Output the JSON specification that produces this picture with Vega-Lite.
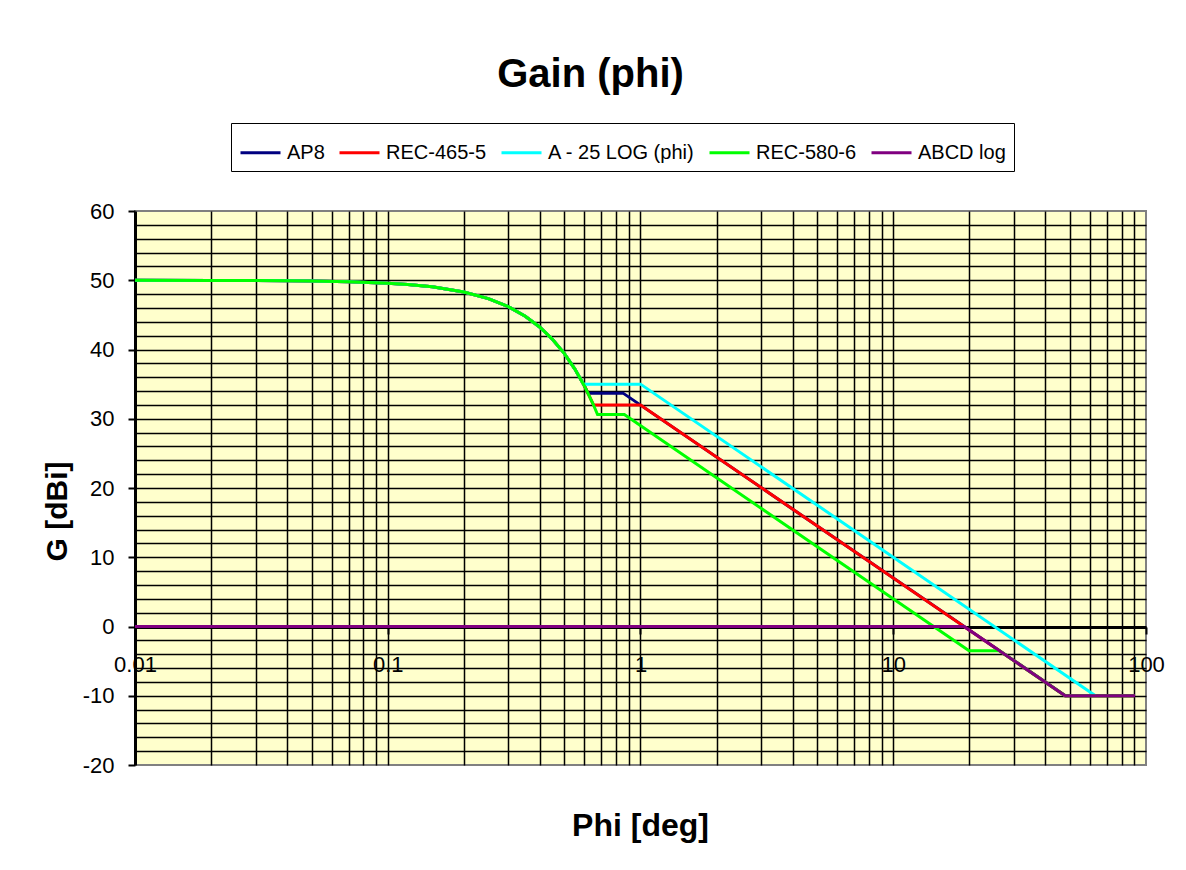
{
  "$schema": "https://vega.github.io/schema/vega-lite/v6.json",
  "width": 1011,
  "height": 554,
  "autosize": {"type": "none"},
  "padding": {"left": 135, "top": 211, "right": 40, "bottom": 105},
  "background": "white",
  "config": {
    "font": "Liberation Sans",
    "view": {"fill": "#FFFFCC", "stroke": "#808080", "strokeWidth": 2}
  },
  "title": {"text": "Gain (phi)", "fontSize": 40, "fontWeight": "bold", "font": "Liberation Sans", "color": "black", "anchor": "middle", "dx": -50, "offset": 28},
  "data": {"values": [
    {"s": "AP8", "phi": 0.01, "g": 50},
    {"s": "AP8", "phi": 0.02, "g": 49.98},
    {"s": "AP8", "phi": 0.03, "g": 49.96},
    {"s": "AP8", "phi": 0.04, "g": 49.93},
    {"s": "AP8", "phi": 0.05, "g": 49.89},
    {"s": "AP8", "phi": 0.07, "g": 49.79},
    {"s": "AP8", "phi": 0.1, "g": 49.58},
    {"s": "AP8", "phi": 0.12, "g": 49.39},
    {"s": "AP8", "phi": 0.15, "g": 49.05},
    {"s": "AP8", "phi": 0.2, "g": 48.3},
    {"s": "AP8", "phi": 0.25, "g": 47.35},
    {"s": "AP8", "phi": 0.3, "g": 46.18},
    {"s": "AP8", "phi": 0.35, "g": 44.81},
    {"s": "AP8", "phi": 0.4, "g": 43.22},
    {"s": "AP8", "phi": 0.45, "g": 41.41},
    {"s": "AP8", "phi": 0.5, "g": 39.4},
    {"s": "AP8", "phi": 0.55, "g": 37.17},
    {"s": "AP8", "phi": 0.6, "g": 34.74},
    {"s": "AP8", "phi": 0.62, "g": 33.7},
    {"s": "AP8", "phi": 0.853, "g": 33.7},
    {"s": "AP8", "phi": 48, "g": -10},
    {"s": "AP8", "phi": 90, "g": -10},

    {"s": "REC-465-5", "phi": 0.01, "g": 50},
    {"s": "REC-465-5", "phi": 0.02, "g": 49.98},
    {"s": "REC-465-5", "phi": 0.03, "g": 49.96},
    {"s": "REC-465-5", "phi": 0.04, "g": 49.93},
    {"s": "REC-465-5", "phi": 0.05, "g": 49.89},
    {"s": "REC-465-5", "phi": 0.07, "g": 49.79},
    {"s": "REC-465-5", "phi": 0.1, "g": 49.58},
    {"s": "REC-465-5", "phi": 0.12, "g": 49.39},
    {"s": "REC-465-5", "phi": 0.15, "g": 49.05},
    {"s": "REC-465-5", "phi": 0.2, "g": 48.3},
    {"s": "REC-465-5", "phi": 0.25, "g": 47.35},
    {"s": "REC-465-5", "phi": 0.3, "g": 46.18},
    {"s": "REC-465-5", "phi": 0.35, "g": 44.81},
    {"s": "REC-465-5", "phi": 0.4, "g": 43.22},
    {"s": "REC-465-5", "phi": 0.45, "g": 41.41},
    {"s": "REC-465-5", "phi": 0.5, "g": 39.4},
    {"s": "REC-465-5", "phi": 0.55, "g": 37.17},
    {"s": "REC-465-5", "phi": 0.6, "g": 34.74},
    {"s": "REC-465-5", "phi": 0.652, "g": 32},
    {"s": "REC-465-5", "phi": 1, "g": 32},
    {"s": "REC-465-5", "phi": 47.86, "g": -10},
    {"s": "REC-465-5", "phi": 90, "g": -10},

    {"s": "A - 25 LOG (phi)", "phi": 0.01, "g": 50},
    {"s": "A - 25 LOG (phi)", "phi": 0.02, "g": 49.98},
    {"s": "A - 25 LOG (phi)", "phi": 0.03, "g": 49.96},
    {"s": "A - 25 LOG (phi)", "phi": 0.04, "g": 49.93},
    {"s": "A - 25 LOG (phi)", "phi": 0.05, "g": 49.89},
    {"s": "A - 25 LOG (phi)", "phi": 0.07, "g": 49.79},
    {"s": "A - 25 LOG (phi)", "phi": 0.1, "g": 49.58},
    {"s": "A - 25 LOG (phi)", "phi": 0.12, "g": 49.39},
    {"s": "A - 25 LOG (phi)", "phi": 0.15, "g": 49.05},
    {"s": "A - 25 LOG (phi)", "phi": 0.2, "g": 48.3},
    {"s": "A - 25 LOG (phi)", "phi": 0.25, "g": 47.35},
    {"s": "A - 25 LOG (phi)", "phi": 0.3, "g": 46.18},
    {"s": "A - 25 LOG (phi)", "phi": 0.35, "g": 44.81},
    {"s": "A - 25 LOG (phi)", "phi": 0.4, "g": 43.22},
    {"s": "A - 25 LOG (phi)", "phi": 0.45, "g": 41.41},
    {"s": "A - 25 LOG (phi)", "phi": 0.5, "g": 39.4},
    {"s": "A - 25 LOG (phi)", "phi": 0.55, "g": 37.17},
    {"s": "A - 25 LOG (phi)", "phi": 0.595, "g": 35},
    {"s": "A - 25 LOG (phi)", "phi": 1, "g": 35},
    {"s": "A - 25 LOG (phi)", "phi": 63.1, "g": -10},

    {"s": "REC-580-6", "phi": 0.01, "g": 50},
    {"s": "REC-580-6", "phi": 0.02, "g": 49.98},
    {"s": "REC-580-6", "phi": 0.03, "g": 49.96},
    {"s": "REC-580-6", "phi": 0.04, "g": 49.93},
    {"s": "REC-580-6", "phi": 0.05, "g": 49.89},
    {"s": "REC-580-6", "phi": 0.07, "g": 49.79},
    {"s": "REC-580-6", "phi": 0.1, "g": 49.58},
    {"s": "REC-580-6", "phi": 0.12, "g": 49.39},
    {"s": "REC-580-6", "phi": 0.15, "g": 49.05},
    {"s": "REC-580-6", "phi": 0.2, "g": 48.3},
    {"s": "REC-580-6", "phi": 0.25, "g": 47.35},
    {"s": "REC-580-6", "phi": 0.3, "g": 46.18},
    {"s": "REC-580-6", "phi": 0.35, "g": 44.81},
    {"s": "REC-580-6", "phi": 0.4, "g": 43.22},
    {"s": "REC-580-6", "phi": 0.45, "g": 41.41},
    {"s": "REC-580-6", "phi": 0.5, "g": 39.4},
    {"s": "REC-580-6", "phi": 0.55, "g": 37.17},
    {"s": "REC-580-6", "phi": 0.6, "g": 34.74},
    {"s": "REC-580-6", "phi": 0.65, "g": 32.09},
    {"s": "REC-580-6", "phi": 0.676, "g": 30.6},
    {"s": "REC-580-6", "phi": 0.863, "g": 30.6},
    {"s": "REC-580-6", "phi": 19.95, "g": -3.5},
    {"s": "REC-580-6", "phi": 26.3, "g": -3.5},
    {"s": "REC-580-6", "phi": 47.86, "g": -10},
    {"s": "REC-580-6", "phi": 90, "g": -10},

    {"s": "ABCD log", "phi": 0.01, "g": 0},
    {"s": "ABCD log", "phi": 19.05, "g": 0},
    {"s": "ABCD log", "phi": 47.86, "g": -10},
    {"s": "ABCD log", "phi": 90.5, "g": -10}
  ]},
  "mark": {"type": "line", "strokeWidth": 3, "clip": true},
  "encoding": {
    "x": {
      "field": "phi", "type": "quantitative",
      "scale": {"type": "log", "domain": [0.01, 100], "nice": false},
      "axis": {
        "title": "Phi [deg]", "titleFontSize": 32, "titleFontWeight": "bold", "titleColor": "black",
        "titleY": 208, "titleBaseline": "alphabetic", "titleX": 505,
        "offset": -138,
        "values": [0.01,0.02,0.03,0.04,0.05,0.06,0.07,0.08,0.09,0.1,0.2,0.3,0.4,0.5,0.6,0.7,0.8,0.9,1,2,3,4,5,6,7,8,9,10,20,30,40,50,60,70,80,90,100],
        "grid": true, "gridColor": "#000000", "gridWidth": 1.5,
        "gridOpacity": {"condition": {"test": "datum.value > 99 || datum.value < 0.0101", "value": 0}, "value": 1},
        "domainColor": "#000000", "domainWidth": 3,
        "tickColor": "#000000", "tickWidth": 2, "tickSize": 7,
        "tickOpacity": {"condition": {"test": "abs(log(datum.value)/LN10 - round(log(datum.value)/LN10)) < 0.001", "value": 1}, "value": 0},
        "labelExpr": "abs(log(datum.value)/LN10 - round(log(datum.value)/LN10)) < 0.001 ? '' + datum.value : ''",
        "labelFontSize": 22, "labelColor": "#000000", "labelPadding": 20,
        "labelOverlap": false, "labelFlush": false, "labelBound": false
      }
    },
    "y": {
      "field": "g", "type": "quantitative",
      "scale": {"domain": [-20, 60], "nice": false, "zero": false},
      "axis": {
        "title": "G [dBi]", "titleFontSize": 30, "titleFontWeight": "bold", "titleColor": "black",
        "titleX": -78, "titleY": 300, "titleAngle": -90, "titleAlign": "center", "titleBaseline": "middle",
        "values": [-20,-18,-16,-14,-12,-10,-8,-6,-4,-2,0,2,4,6,8,10,12,14,16,18,20,22,24,26,28,30,32,34,36,38,40,42,44,46,48,50,52,54,56,58,60],
        "grid": true, "gridColor": "#000000", "gridWidth": 1.5,
        "gridOpacity": {"condition": {"test": "datum.value == 60 || datum.value == -20", "value": 0}, "value": 1},
        "domainColor": "#000000", "domainWidth": 3,
        "tickColor": "#000000", "tickWidth": 2, "tickSize": 7,
        "tickOpacity": {"condition": {"test": "datum.value % 10 == 0", "value": 1}, "value": 0},
        "labelExpr": "datum.value % 10 == 0 ? '' + datum.value : ''",
        "labelFontSize": 22, "labelColor": "#000000", "labelPadding": 14,
        "labelOverlap": false, "labelFlush": false, "labelBound": false
      }
    },
    "color": {
      "field": "s", "type": "nominal",
      "scale": {
        "domain": ["AP8", "REC-465-5", "A - 25 LOG (phi)", "REC-580-6", "ABCD log"],
        "range": ["#000080", "#FF0000", "#00FFFF", "#00FF00", "#800080"]
      },
      "legend": {
        "orient": "none", "legendX": 96, "legendY": -88, "direction": "horizontal",
        "title": null, "symbolType": "stroke", "symbolSize": 1600, "symbolStrokeWidth": 3,
        "labelFontSize": 20, "labelColor": "#000000", "labelOffset": 5, "columnPadding": 8,
        "strokeColor": "#000000", "fillColor": "#FFFFFF", "padding": 8, "labelLimit": 300
      }
    }
  }
}
